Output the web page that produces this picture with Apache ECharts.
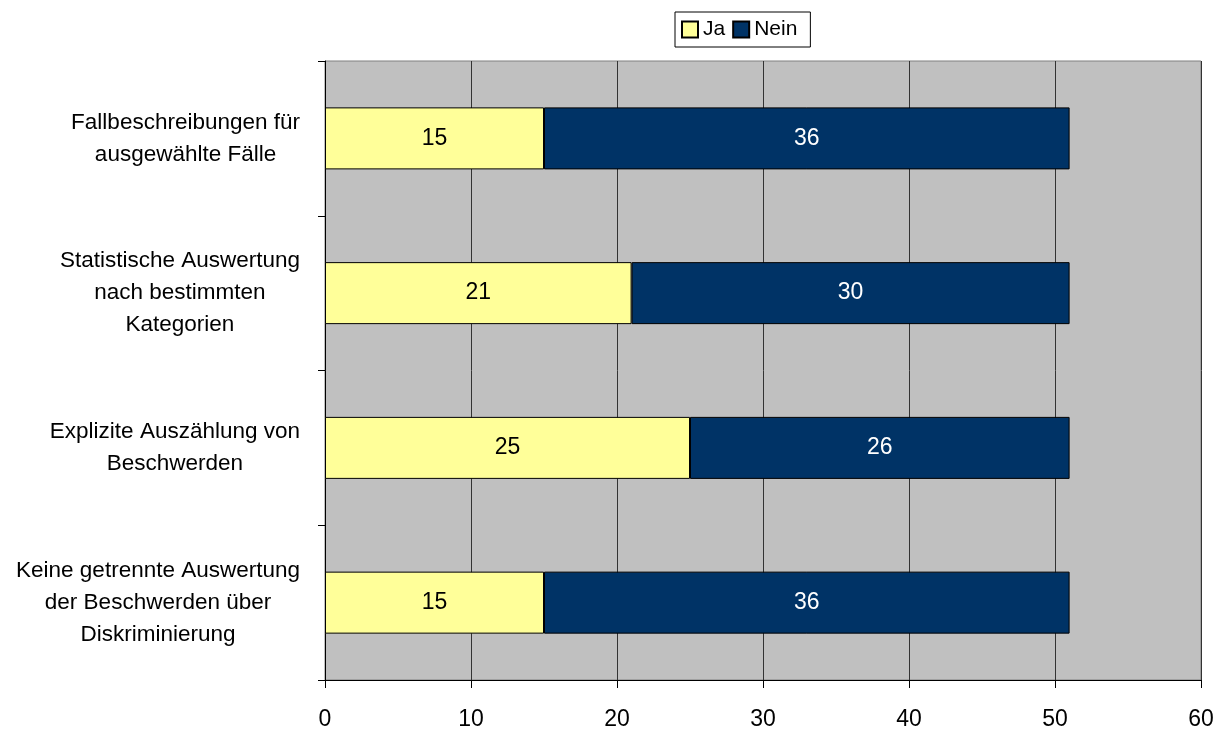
<!DOCTYPE html>
<html>
<head>
<meta charset="utf-8">
<script src="https://cdn.jsdelivr.net/npm/echarts@6/dist/echarts.min.js"></script>
<style>
  html, body { margin: 0; padding: 0; background: #ffffff; }
  #chart { width: 1219px; height: 731px; }
</style>
</head>
<body>
<div id="chart"></div>
<script>
// Categories (top to bottom)
const categories = [
  'Fallbeschreibungen für\nausgewählte Fälle',
  'Statistische Auswertung\nnach bestimmten\nKategorien',
  'Explizite Auszählung von\nBeschwerden',
  'Keine getrennte Auswertung\nder Beschwerden über\nDiskriminierung'
];
const jaValues = [15, 21, 25, 15];
const neinValues = [36, 30, 26, 36];
const xTicks = [0, 10, 20, 30, 40, 50, 60];

const FONT = '"Liberation Sans", Arial, sans-serif';

const chart = echarts.init(document.getElementById('chart'));
chart.setOption({
  animation: false,
  textStyle: { fontFamily: FONT },
  legend: {
    top: 12,
    left: 675,
    data: ['Ja', 'Nein'],
    icon: 'rect',
    itemWidth: 16,
    itemHeight: 16,
    itemGap: 7,
    padding: [7, 13, 7, 6],
    borderColor: '#000',
    borderWidth: 1,
    backgroundColor: '#fff',
    textStyle: { fontFamily: FONT, fontSize: 21, color: '#000' }
  },
  grid: {
    left: 325, right: 18, top: 61, bottom: 50,
    show: true,
    backgroundColor: '#c0c0c0',
    borderColor: '#808080',
    borderWidth: 1
  },
  xAxis: {
    type: 'value',
    min: 0, max: 60, interval: 10,
    axisLine: { show: true, lineStyle: { color: '#000', width: 1 } },
    axisTick: { show: true, length: 8, lineStyle: { color: '#000' } },
    splitLine: { show: true, lineStyle: { color: '#333', width: 1 } },
    axisLabel: {
      margin: 28, fontSize: 23, color: '#000', fontFamily: FONT,
      formatter: v => xTicks.includes(v) ? String(v) : ''
    }
  },
  yAxis: {
    type: 'category',
    data: categories,
    inverse: true,
    axisLine: { show: true, lineStyle: { color: '#000', width: 1 } },
    axisTick: { show: true, length: 7, lineStyle: { color: '#000' } },
    axisLabel: {
      margin: 25, align: 'right', color: '#000', fontFamily: FONT,
      // each line centred within the wrapped block, block set right next to the axis
      formatter: v => v.split('\n').map(l => '{c|' + l + '}').join('\n'),
      rich: {
        c: { align: 'center', fontSize: 22.5, lineHeight: 32, color: '#000', fontFamily: FONT }
      }
    }
  },
  series: [
    {
      name: 'Ja', type: 'bar', stack: 'total', data: jaValues,
      barWidth: 62,
      itemStyle: { color: '#ffff99', borderColor: '#000', borderWidth: 1 },
      label: { show: true, position: 'inside', fontSize: 23, color: '#000', fontFamily: FONT }
    },
    {
      name: 'Nein', type: 'bar', stack: 'total', data: neinValues,
      barWidth: 62,
      itemStyle: { color: '#003366', borderColor: '#000', borderWidth: 1 },
      label: { show: true, position: 'inside', fontSize: 23, color: '#fff', fontFamily: FONT }
    }
  ]
});
</script>
</body>
</html>
